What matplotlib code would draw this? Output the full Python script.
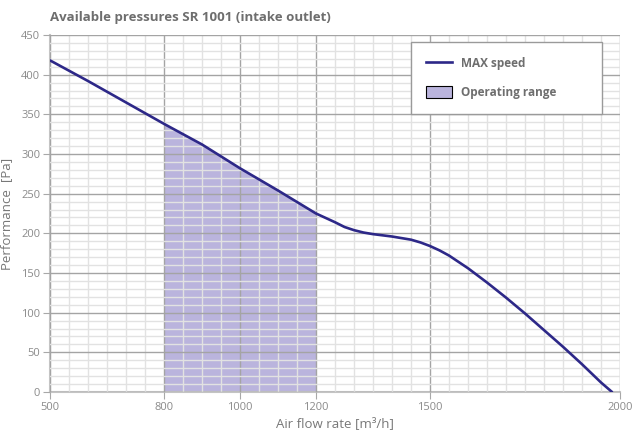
import matplotlib
matplotlib.use("Agg")
import matplotlib.pyplot as plt
from matplotlib.patches import Patch
from matplotlib.lines import Line2D
from matplotlib.ticker import MultipleLocator, FixedLocator
import numpy as np

# MAX speed curve
flow = [500, 600, 700, 800, 900, 1000, 1100, 1200, 1250, 1275, 1300, 1325,
        1350, 1400, 1450, 1475, 1500, 1525, 1550, 1600, 1650, 1700, 1750,
        1800, 1850, 1900, 1950, 1979]
pressure = [418, 392, 365, 338, 312, 282, 254, 225, 214, 208, 204, 201,
            199, 196, 192, 188.5, 184, 178.5, 172, 156, 138, 119, 99,
            78, 57, 35, 12, 0]
range_lo, range_hi = 800, 1200
x_ticks = [500, 800, 1000, 1200, 1500, 2000]

plt.rcParams["font.family"] = ["Open Sans", "DejaVu Sans"]

fig = plt.figure(figsize=(6.33, 4.30), dpi=100)
ax = fig.add_axes([50 / 633, 38 / 430, 570 / 633, 357 / 430])

x = np.array(flow, dtype=float)
y = np.array(pressure, dtype=float)
mask = (x >= range_lo) & (x <= range_hi)
ax.fill_between(x[mask], 0, y[mask], color="#bab4dd", lw=0, zorder=1)
ax.plot(x, y, color="#2d2888", lw=1.9, zorder=4, solid_capstyle="round",
        solid_joinstyle="round")

ax.set_xlim(500, 2000)
ax.set_ylim(0, 450)
ax.xaxis.set_major_locator(FixedLocator(x_ticks))
ax.xaxis.set_minor_locator(MultipleLocator(50))
ax.yaxis.set_major_locator(MultipleLocator(50))
ax.yaxis.set_minor_locator(MultipleLocator(10))

ax.grid(which="minor", color="#e2e2e2", lw=1.0, zorder=2)
ax.grid(which="major", color="#a4a4a4", lw=1.0, zorder=3)
ax.set_axisbelow(False)

for side in ("top", "right"):
    ax.spines[side].set_visible(False)
for side in ("left", "bottom"):
    ax.spines[side].set_color("#c4c4c4")
    ax.spines[side].set_linewidth(1.5)

ax.tick_params(which="major", length=5, color="#a8a8a8", labelcolor="#8a8a8a",
               labelsize=8, pad=2)
ax.tick_params(which="minor", length=0)

ax.set_xlabel("Air flow rate [m³/h]", color="#777777", fontsize=9.5, labelpad=3)
ax.set_ylabel("Performance  [Pa]", color="#777777", fontsize=9.5, labelpad=6)
ax.set_title("Available pressures SR 1001 (intake outlet)", loc="left",
             fontsize=9.5, fontweight="bold", color="#6e6e6e", x=-0.0, pad=10)

handles = [Line2D([0], [0], color="#2d2888", lw=1.9),
           Patch(facecolor="#bab4dd", edgecolor="black", lw=0.8)]
leg = ax.legend(handles, ["MAX speed", "Operating range"],
                loc="upper left", bbox_to_anchor=(361 / 570, 350 / 357, 191 / 570, 0.0),
                mode="expand", borderaxespad=0,
                frameon=True, fancybox=False, framealpha=1,
                edgecolor="#9a9a9a", handlelength=2.2, handleheight=1.25,
                borderpad=1.25, labelspacing=1.35, handletextpad=0.8,
                prop={"size": 8.5, "weight": "bold"})
for t in leg.get_texts():
    t.set_color("#6e6e6e")
leg.get_frame().set_linewidth(1.0)
leg.set_zorder(5)

fig.savefig("out.png", dpi=100)
